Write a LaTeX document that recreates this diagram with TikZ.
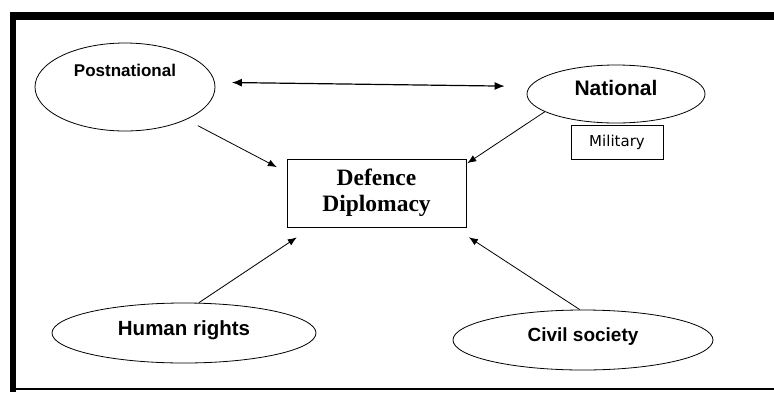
\documentclass[tikz,border=0pt]{standalone}
\usepackage{fontspec}
\setmainfont{Liberation Serif}
\setsansfont{Liberation Sans}
\newfontfamily\milfont{DejaVu Sans}
\usetikzlibrary{shapes.geometric,arrows.meta}
\begin{document}
\begin{tikzpicture}[x=1pt,y=-1pt]
\tikzstyle{every node}+=[inner sep=0pt]
\tikzstyle{bubble}=[draw=black,ellipse,line width=0.8pt,text depth=10pt]
\tikzstyle{arr}=[draw=black,line width=0.8pt,-{Latex[length=9pt,width=7pt]}]
\fill [white] (0,0) rectangle (774,392);
\useasboundingbox (0,0) rectangle (774,392);
\draw [black,line width=8pt] (10,16) -- (774,16);
\draw [black,line width=6pt] (13,12) -- (13,392);
\draw [black,line width=1.5pt] (10,389) -- (774,389);
\node [bubble,minimum width=180pt,minimum height=88pt,text depth=34pt,font=\sffamily\bfseries\fontsize{17}{20}\selectfont] (post) at (125,87) {Postnational};
\node [bubble,minimum width=178pt,minimum height=58pt,text depth=12pt,font=\sffamily\bfseries\fontsize{21}{24}\selectfont] (nat) at (616,94) {National};
\node [draw=black,line width=0.8pt,minimum width=92pt,minimum height=34pt,font=\milfont\fontsize{15}{18}\selectfont] (mil) at (617,142) {Military};
\node [draw=black,line width=0.8pt,minimum width=179pt,minimum height=68pt,align=center,font=\rmfamily\bfseries\fontsize{23.5}{26}\selectfont] (def) at (376.5,193) {Defence\\Diplomacy};
\node [bubble,minimum width=264pt,minimum height=60pt,font=\sffamily\bfseries\fontsize{20.5}{24}\selectfont] (hum) at (184,333) {Human rights};
\node [bubble,minimum width=260pt,minimum height=60pt,font=\sffamily\bfseries\fontsize{19}{22}\selectfont] (civ) at (583,340) {Civil society};
\draw [arr,line width=1.2pt,{Latex[length=10pt,width=8pt]}-{Latex[length=10pt,width=8pt]},shorten <=17pt,shorten >=25pt] (post.3) -- (nat.175);
\draw [arr,shorten <=13pt,shorten >=11pt] (post.-28) -- (def.167);
\draw [arr,shorten >=1pt] (nat.194) -- (def.18);
\draw [arr,shorten >=18pt] (hum.64) -- (def.208);
\draw [arr,shorten >=18pt] (civ.96) -- (def.-24);
\end{tikzpicture}
\end{document}
